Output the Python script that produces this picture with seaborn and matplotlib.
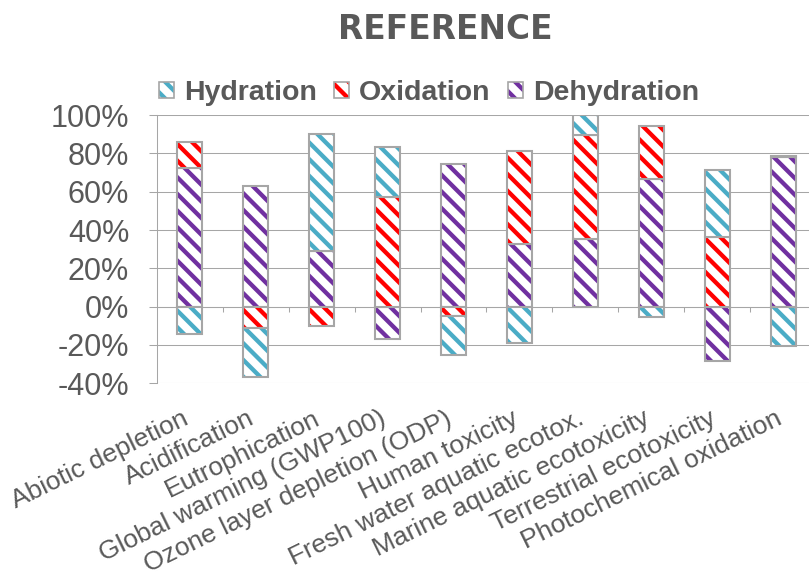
import numpy as np
import matplotlib
matplotlib.use("Agg")
import matplotlib.pyplot as plt
import seaborn as sns
from matplotlib.patches import Patch
from matplotlib.ticker import FuncFormatter

# -------------------------------
# Data (percent contribution per impact category)
# -------------------------------
categories = [
    "Abiotic depletion",
    "Acidification",
    "Eutrophication",
    "Global warming (GWP100)",
    "Ozone layer depletion (ODP)",
    "Human toxicity",
    "Fresh water aquatic ecotox.",
    "Marine aquatic ecotoxicity",
    "Terrestrial ecotoxicity",
    "Photochemical oxidation",
]
hydration = [-14.2, -25.7, 60.9, 25.9, -20.3, -18.9, 10.4, -5.6, 35.4, -20.3]
oxidation = [13.7, -11.1, -9.9, 57.3, -5.0, 48.4, 54.2, 27.6, 36.1, 0.5]
dehydration = [72.2, 63.0, 29.2, -16.7, 74.5, 32.8, 35.4, 66.5, -28.6, 78.3]

series_names = ["Hydration", "Oxidation", "Dehydration"]
series_colors = {"Hydration": "#4BACC6", "Oxidation": "#FF0000", "Dehydration": "#7030A0"}
y_ticks = [-40, -20, 0, 20, 40, 60, 80, 100]

# -------------------------------
# Style
# -------------------------------
sns.set_style("white")
plt.rcParams["font.family"] = ["Liberation Sans", "DejaVu Sans"]
plt.rcParams["hatch.linewidth"] = 3.1

text_grey = "#595959"
line_grey = "#a6a6a6"
hatch = "\\\\"

fig = plt.figure(figsize=(8.09, 5.76), dpi=100)
ax = fig.add_axes([0.194, 0.3346, 0.8147, 0.4656])

# -------------------------------
# Stacked bars (positives and negatives stacked separately)
# bottom-up order: Dehydration, Oxidation, Hydration
# -------------------------------
stack = [("Dehydration", dehydration), ("Oxidation", oxidation), ("Hydration", hydration)]
pos_base = np.zeros(len(categories))
neg_base = np.zeros(len(categories))

for name, vals in stack:
    v = np.array(vals, dtype=float)
    bottom = np.where(v >= 0, pos_base, neg_base)
    # hatched fill
    sns.barplot(x=categories, y=v, order=categories, bottom=bottom, width=0.38,
                errorbar=None, ax=ax, color="white", facecolor="white",
                edgecolor=series_colors[name], hatch=hatch, linewidth=0)
    # grey outline
    sns.barplot(x=categories, y=v, order=categories, bottom=bottom, width=0.38,
                errorbar=None, ax=ax, color="white", facecolor="none",
                edgecolor=line_grey, linewidth=1.5)
    pos_base += np.where(v > 0, v, 0)
    neg_base += np.where(v < 0, v, 0)

# -------------------------------
# Axes
# -------------------------------
ax.set_xlim(-0.5, len(categories) - 0.5)
ax.set_ylim(-40, 100)
ax.set_yticks(y_ticks)
ax.yaxis.set_major_formatter(FuncFormatter(lambda v, p: f"{v:.0f}%"))
ax.set_xlabel("")
ax.set_ylabel("")

ax.set_axisbelow(True)
ax.yaxis.grid(True, color=line_grey, linewidth=0.75)
ax.xaxis.grid(False)
for side in ["top", "right", "bottom"]:
    ax.spines[side].set_visible(False)
ax.spines["left"].set_color(line_grey)
ax.spines["left"].set_linewidth(0.75)

ax.tick_params(axis="y", labelsize=22, labelcolor=text_grey, color=line_grey,
               length=6, width=0.75, pad=14, left=True)
ax.tick_params(axis="x", labelsize=19, labelcolor=text_grey, length=0, pad=29)
for lab in ax.get_xticklabels():
    lab.set_rotation(26)
    lab.set_ha("right")
    lab.set_va("baseline")
    lab.set_rotation_mode("anchor")

# category axis line at 0 with boundary tick marks
ax.axhline(0, color=line_grey, linewidth=0.75, zorder=0.5)
boundaries = np.arange(len(categories) - 1) + 0.5
ax.vlines(boundaries, -3, 0, color=line_grey, linewidth=0.75, zorder=0.5)

# -------------------------------
# Legend + title
# -------------------------------
handles = []
for name in series_names:
    fill = Patch(facecolor="white", edgecolor=series_colors[name], hatch=hatch, linewidth=0)
    edge = Patch(facecolor="none", edgecolor=line_grey, linewidth=1.2)
    handles.append((fill, edge))

fig.legend(handles=handles, labels=series_names, ncol=3, loc="center",
           bbox_to_anchor=(0.5303, 0.8385), frameon=False,
           prop={"weight": "bold", "size": 20.5}, labelcolor=text_grey,
           handlelength=0.53, handleheight=0.53, handletextpad=0.35,
           columnspacing=0.6, borderpad=0)

fig.text(0.550, 0.948, "REFERENCE", ha="center", va="center", fontsize=23.7,
         fontweight="bold", color=text_grey, family=["DejaVu Sans"])

fig.savefig("out.png", dpi=100)
